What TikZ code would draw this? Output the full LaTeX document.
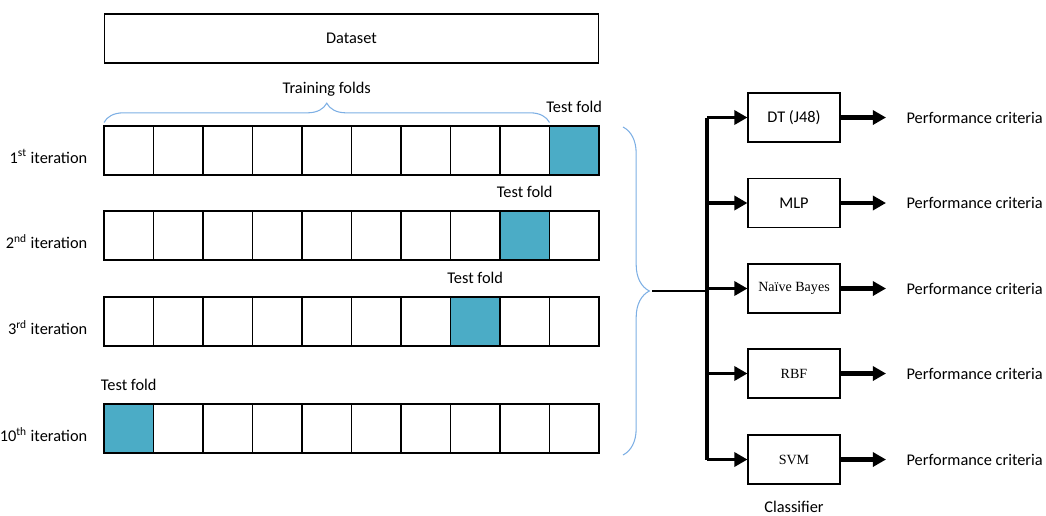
\documentclass[tikz,border=0pt]{standalone}
\usepackage{fontspec}
\setmainfont{Carlito}
\newfontfamily\timesfont{Liberation Serif}
\usetikzlibrary{
  arrows.meta,
  decorations.pathreplacing,
  positioning,
}
\definecolor{foldblue}{RGB}{75,172,198}
\definecolor{braceblue}{RGB}{125,175,228}
\tikzstyle{fold} = [
  rectangle,
  draw,
  line width=0.6pt,
  minimum width=0.99cm,
  minimum height=0.98cm,
  inner sep=0pt,
  outer sep=0pt,
]
\tikzstyle{clsbox} = [
  rectangle,
  draw,
  line width=0.6pt,
  minimum width=1.84cm,
  minimum height=0.98cm,
  inner sep=0pt,
]
\tikzstyle{bracedeco} = [
  decorate,
  decoration={brace,amplitude=#1},
  braceblue,
  line width=0.6pt,
]
\tikzstyle{feed} = [
  -{Triangle[length=7.5pt,width=8pt]},
  line width=2pt,
]
\tikzstyle{result} = [
  -{Triangle[length=7.5pt,width=8pt]},
  line width=2.6pt,
]

\begin{document}
\begin{tikzpicture}[x=0.02cm,y=-0.02cm,font=\fontsize{9.3}{11}\selectfont]
  \useasboundingbox (0,0) rectangle (1046,515);

  \node[rectangle,draw,line width=0.6pt,minimum width=9.9cm,minimum height=0.98cm] (dataset) at (351.5,38.5) {Dataset};

  % folds of each iteration
  \foreach \r/\y/\t/\lab in {1/150.5/10/1\textsuperscript{st},2/235.5/9/2\textsuperscript{nd},3/321.5/8/3\textsuperscript{rd},4/428.5/1/10\textsuperscript{th}} {
    \foreach \c in {1,...,10} {
      \node[fold] (c\r-\c) at ({104+49.5*(\c-0.5)},\y) {};
    }
    \node[fold,fill=foldblue] (test\r) at (c\r-\t) {};
    \node[above=4pt of test\r] (testlab\r) {Test fold};
    \node[left=6pt of c\r-1,yshift=-3.5pt] (iter\r) {\lab{} iteration};
  }

  \draw[bracedeco=11pt] ([yshift=2pt]c1-1.north west) -- ([yshift=2pt]c1-9.north east)
    node[midway,above=11pt,text=black] (trainlab) {Training folds};

  % right brace joining the iterations
  \coordinate (braceTop) at (623,127);
  \coordinate (braceBot) at (623,455);
  \coordinate (braceTip) at (652,291);
  \draw[bracedeco=15pt] (braceTop) -- (braceBot);

  % classifiers
  \foreach \i/\y/\name in {1/117.5/DT (J48),2/203/MLP,3/288.5/{\timesfont\fontsize{8}{10}\selectfont Naïve Bayes},4/373.5/{\timesfont\fontsize{8}{10}\selectfont RBF},5/459.5/{\timesfont\fontsize{8}{10}\selectfont SVM}} {
    \node[clsbox] (cls\i) at (794,\y) {\name};
    \coordinate (out\i) at (886,\y);
    \draw[result] (cls\i.east) -- (out\i);
    \node[right=11.5pt of out\i,anchor=west,inner sep=0pt] (perf\i) {Performance criteria};
  }
  \node[below=6pt of cls5] (clslab) {Classifier};

  \coordinate (busTop) at (707,117.5);
  \coordinate (busBot) at (707,459.5);
  \draw[line width=2.3pt] (busTop) -- (busBot);
  \draw[line width=1.3pt] (braceTip) -- (braceTip -| busTop);
  \foreach \i in {1,...,5} {
    \draw[feed] (cls\i.west -| busTop) -- (cls\i.west);
  }

\end{tikzpicture}
\end{document}
